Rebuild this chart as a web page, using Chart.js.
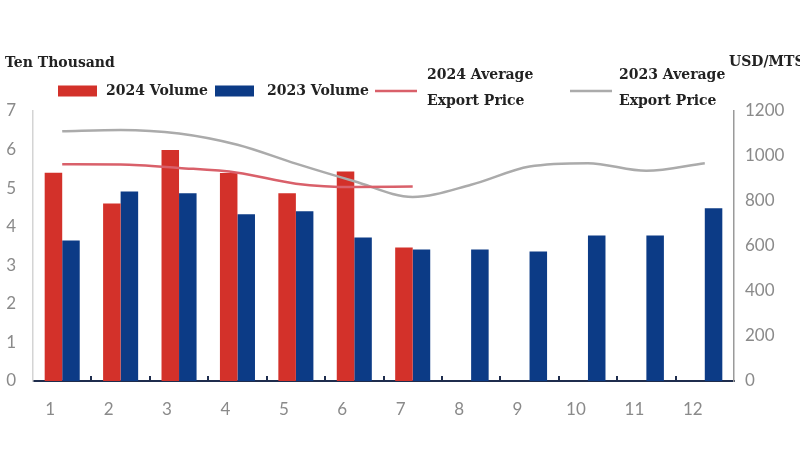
<!DOCTYPE html>
<html>
<head>
<meta charset="utf-8">
<script src="https://cdn.jsdelivr.net/npm/chart.js@4"></script>
<style>
html,body{margin:0;padding:0;background:#fff;}
#wrap{width:800px;height:450px;position:relative;}
</style>
</head>
<body>
<div id="wrap"><canvas id="c" width="800" height="450"></canvas></div>
<script>
const months = ['1','2','3','4','5','6','7','8','9','10','11','12'];
const volume2024 = [5.40, 4.60, 5.99, 5.39, 4.87, 5.43, 3.46, null, null, null, null, null];
const volume2023 = [3.64, 4.91, 4.87, 4.32, 4.40, 3.72, 3.41, 3.41, 3.36, 3.77, 3.77, 4.48];
const price2024 = [963, 962, 947, 926, 877, 862, 864, null, null, null, null, null];
const price2023 = [1110, 1116, 1100, 1050, 966, 888, 818, 872, 953, 968, 934, 968];
const leftTicks = [0,1,2,3,4,5,6,7];
const rightTicks = [0,200,400,600,800,1000,1200];
const leftUnit = 'Ten Thousand';
const rightUnit = 'USD/MTS';

const RED = '#d3312a', BLUE = '#0c3b86', RED_LINE = '#d9606a', GRAY_LINE = '#ababab';
const TICK_FONT = {family: 'Lato, "Open Sans", sans-serif', size: 17};
const SERIF = 'bold 14px "DejaVu Serif", "Liberation Serif", serif';

const overlay = {
  id: 'overlay',
  afterDraw(chart) {
    const ctx = chart.ctx;
    const x = chart.scales.x;
    const area = chart.chartArea;
    ctx.save();
    // small inward tick marks on the x axis between categories
    ctx.strokeStyle = '#1f2d4d';
    ctx.lineWidth = 2;
    for (let i = 0; i < months.length - 1; i++) {
      const bx = (x.getPixelForValue(i) + x.getPixelForValue(i + 1)) / 2;
      ctx.beginPath();
      ctx.moveTo(Math.round(bx), area.bottom);
      ctx.lineTo(Math.round(bx), area.bottom - 5);
      ctx.stroke();
    }
    // unit labels
    ctx.fillStyle = '#222';
    ctx.font = SERIF;
    ctx.textBaseline = 'alphabetic';
    ctx.textAlign = 'left';
    ctx.fillText(leftUnit, 5, 67);
    ctx.fillText(rightUnit, 729, 66);
    // legend
    const ds = chart.data.datasets;
    const items = [
      {d: ds[0], type: 'box', x0: 58, tx: 106},
      {d: ds[1], type: 'box', x0: 215, tx: 267},
      {d: ds[2], type: 'line', x0: 375, tx: 427},
      {d: ds[3], type: 'line', x0: 570, tx: 619}
    ];
    const cy = 91;
    items.forEach(it => {
      if (it.type === 'box') {
        ctx.fillStyle = it.d.backgroundColor;
        ctx.fillRect(it.x0, cy - 5.5, 39, 11);
      } else {
        ctx.strokeStyle = it.d.borderColor;
        ctx.lineWidth = 2.5;
        ctx.beginPath();
        ctx.moveTo(it.x0, cy);
        ctx.lineTo(it.x0 + 42, cy);
        ctx.stroke();
      }
      ctx.fillStyle = '#222';
      ctx.font = SERIF;
      ctx.textBaseline = 'middle';
      const lab = it.d.label;
      if (Array.isArray(lab)) {
        ctx.fillText(lab[0], it.tx, 75);
        ctx.fillText(lab[1], it.tx, 101);
      } else {
        ctx.fillText(lab, it.tx, cy);
      }
    });
    ctx.restore();
  }
};

new Chart(document.getElementById('c'), {
  type: 'bar',
  data: {
    labels: months,
    datasets: [
      {label: '2024 Volume', data: volume2024, backgroundColor: RED, yAxisID: 'y', order: 2,
       categoryPercentage: 0.6, barPercentage: 1.0},
      {label: '2023 Volume', data: volume2023, backgroundColor: BLUE, yAxisID: 'y', order: 2,
       categoryPercentage: 0.6, barPercentage: 1.0},
      {type: 'line', label: ['2024 Average', 'Export Price'], data: price2024, borderColor: RED_LINE,
       backgroundColor: RED_LINE, borderWidth: 2.5, pointRadius: 0, tension: 0.4,
       cubicInterpolationMode: 'monotone', yAxisID: 'y1', order: 1, spanGaps: false},
      {type: 'line', label: ['2023 Average', 'Export Price'], data: price2023, borderColor: GRAY_LINE,
       backgroundColor: GRAY_LINE, borderWidth: 2.5, pointRadius: 0, tension: 0.4,
       cubicInterpolationMode: 'monotone', yAxisID: 'y1', order: 1}
    ]
  },
  options: {
    responsive: false,
    animation: false,
    layout: {padding: {top: 111, left: 0, right: 0, bottom: 0}},
    plugins: {legend: {display: false}, tooltip: {enabled: false}},
    scales: {
      x: {
        grid: {display: false, drawTicks: false},
        border: {display: true, color: '#1f2d4d', width: 2},
        ticks: {color: '#8a8a8a', font: TICK_FONT, padding: 18, labelOffset: -12, maxRotation: 0},
        afterFit(s) { s.height = 69; }
      },
      y: {
        position: 'left',
        min: 0, max: 7,
        afterBuildTicks(s) { s.ticks = leftTicks.map(v => ({value: v})); },
        grid: {display: false, drawTicks: false},
        border: {display: true, color: '#d4d4d4', width: 1.5},
        ticks: {color: '#8a8a8a', font: TICK_FONT, padding: 17, callback: v => String(v)},
        afterFit(s) { s.width = 33; }
      },
      y1: {
        position: 'right',
        min: 0, max: 1200,
        afterBuildTicks(s) { s.ticks = rightTicks.map(v => ({value: v})); },
        grid: {display: false, drawTicks: false},
        border: {display: true, color: '#9a9a9a', width: 1.5},
        ticks: {color: '#8a8a8a', font: TICK_FONT, padding: 11, callback: v => String(v)},
        afterFit(s) { s.width = 66; }
      }
    }
  },
  plugins: [overlay]
});
</script>
</body>
</html>
